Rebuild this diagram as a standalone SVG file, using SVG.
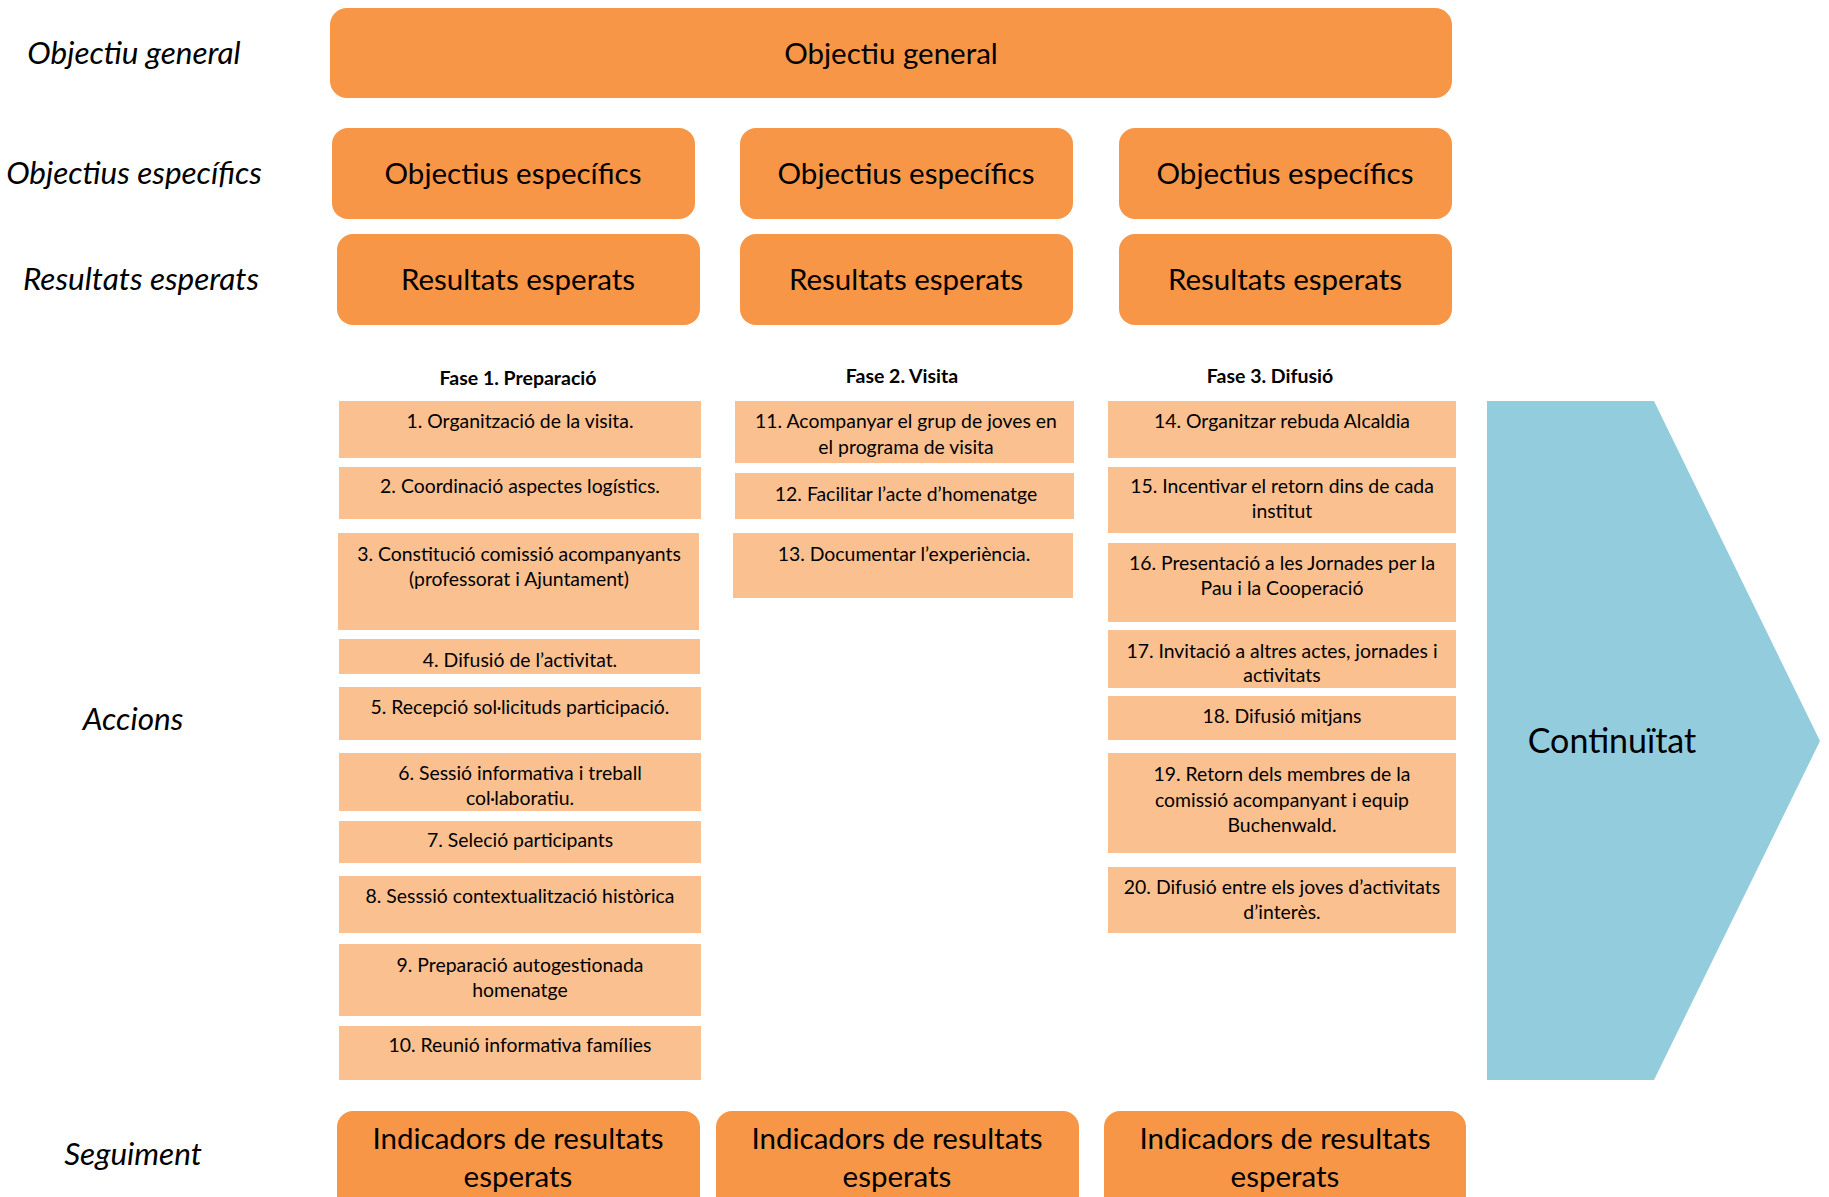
<svg xmlns="http://www.w3.org/2000/svg" width="1829" height="1197" viewBox="0 0 1829 1197">
<style>
.big{fill:#F79646}
.act{fill:#FAC090}
text{font-family:Lato,"Open Sans","Liberation Sans",sans-serif;fill:#000;text-anchor:middle}
.lbl{font-size:31.5px;font-style:italic}
.h{font-size:29.5px}
.a{font-size:19.4px}
.ph{font-size:19.5px;font-weight:bold}
.ct{font-size:34px}
</style>
<rect width="1829" height="1197" fill="#fff"/>
<g id="labels">
<text class="lbl" x="134" y="64">Objectiu general</text>
<text class="lbl" x="134" y="184">Objectius específics</text>
<text class="lbl" x="141" y="290">Resultats esperats</text>
<text class="lbl" x="133" y="730">Accions</text>
<text class="lbl" x="133" y="1165">Seguiment</text>
</g>
<g id="general"><rect class="big" x="330" y="8" width="1122" height="90" rx="17"/><text class="h" x="891" y="64">Objectiu general</text></g>
<g id="obj1"><rect class="big" x="332" y="128" width="363" height="91" rx="16"/><text class="h" x="513" y="184">Objectius específics</text></g>
<g id="obj2"><rect class="big" x="740" y="128" width="333" height="91" rx="16"/><text class="h" x="906" y="184">Objectius específics</text></g>
<g id="obj3"><rect class="big" x="1119" y="128" width="333" height="91" rx="16"/><text class="h" x="1285" y="184">Objectius específics</text></g>
<g id="res1"><rect class="big" x="337" y="234" width="363" height="91" rx="16"/><text class="h" x="518" y="290">Resultats esperats</text></g>
<g id="res2"><rect class="big" x="740" y="234" width="333" height="91" rx="16"/><text class="h" x="906" y="290">Resultats esperats</text></g>
<g id="res3"><rect class="big" x="1119" y="234" width="333" height="91" rx="16"/><text class="h" x="1285" y="290">Resultats esperats</text></g>
<g id="phase1"><text class="ph" x="518" y="385">Fase 1. Preparació</text></g>
<g id="phase2"><text class="ph" x="902" y="383">Fase 2. Visita</text></g>
<g id="phase3"><text class="ph" x="1270" y="383">Fase 3. Difusió</text></g>
<g id="a1"><rect class="act" x="339" y="401" width="362" height="57"/><text class="a" x="520" y="428">1. Organització de la visita.</text></g>
<g id="a2"><rect class="act" x="339" y="467" width="362" height="52"/><text class="a" x="520" y="493">2. Coordinació aspectes logístics.</text></g>
<g id="a3"><rect class="act" x="338" y="533" width="361" height="97"/><text class="a" x="519" y="561">3. Constitució comissió acompanyants</text><text class="a" x="519" y="586">(professorat i Ajuntament)</text></g>
<g id="a4"><rect class="act" x="339" y="639" width="361" height="35"/><text class="a" x="520" y="667">4. Difusió de l’activitat.</text></g>
<g id="a5"><rect class="act" x="339" y="687" width="362" height="53"/><text class="a" x="520" y="714">5. Recepció sol·licituds participació.</text></g>
<g id="a6"><rect class="act" x="339" y="753" width="362" height="58"/><text class="a" x="520" y="780">6. Sessió informativa i treball</text><text class="a" x="520" y="805">col·laboratiu.</text></g>
<g id="a7"><rect class="act" x="339" y="821" width="362" height="42"/><text class="a" x="520" y="847">7. Seleció participants</text></g>
<g id="a8"><rect class="act" x="339" y="876" width="362" height="57"/><text class="a" x="520" y="903">8. Sesssió contextualització històrica</text></g>
<g id="a9"><rect class="act" x="339" y="944" width="362" height="72"/><text class="a" x="520" y="972">9. Preparació autogestionada</text><text class="a" x="520" y="997">homenatge</text></g>
<g id="a10"><rect class="act" x="339" y="1026" width="362" height="54"/><text class="a" x="520" y="1052">10. Reunió informativa famílies</text></g>
<g id="a11"><rect class="act" x="735" y="401" width="339" height="62"/><text class="a" x="906" y="428">11. Acompanyar el grup de joves en</text><text class="a" x="906" y="454">el programa de visita</text></g>
<g id="a12"><rect class="act" x="735" y="473" width="339" height="46"/><text class="a" x="906" y="501">12. Facilitar l’acte d’homenatge</text></g>
<g id="a13"><rect class="act" x="733" y="533" width="340" height="65"/><text class="a" x="904" y="561">13. Documentar l’experiència.</text></g>
<g id="a14"><rect class="act" x="1108" y="401" width="348" height="57"/><text class="a" x="1282" y="428">14. Organitzar rebuda Alcaldia</text></g>
<g id="a15"><rect class="act" x="1108" y="467" width="348" height="66"/><text class="a" x="1282" y="493">15. Incentivar el retorn dins de cada</text><text class="a" x="1282" y="518">institut</text></g>
<g id="a16"><rect class="act" x="1108" y="543" width="348" height="79"/><text class="a" x="1282" y="570">16. Presentació a les Jornades per la</text><text class="a" x="1282" y="595">Pau i la Cooperació</text></g>
<g id="a17"><rect class="act" x="1108" y="630" width="348" height="58"/><text class="a" x="1282" y="658">17. Invitació a altres actes, jornades i</text><text class="a" x="1282" y="682">activitats</text></g>
<g id="a18"><rect class="act" x="1108" y="696" width="348" height="44"/><text class="a" x="1282" y="723">18. Difusió mitjans</text></g>
<g id="a19"><rect class="act" x="1108" y="753" width="348" height="100"/><text class="a" x="1282" y="781">19. Retorn dels membres de la</text><text class="a" x="1282" y="807">comissió acompanyant i equip</text><text class="a" x="1282" y="832">Buchenwald.</text></g>
<g id="a20"><rect class="act" x="1108" y="867" width="348" height="66"/><text class="a" x="1282" y="894">20. Difusió entre els joves d’activitats</text><text class="a" x="1282" y="919">d’interès.</text></g>
<g id="continuitat"><polygon points="1487,401 1654,401 1820,741 1654,1080 1487,1080" fill="#93CDDD"/><text class="ct" x="1612" y="753">Continuïtat</text></g>
<g id="ind1"><rect class="big" x="337" y="1111" width="363" height="110" rx="16"/><text class="h" x="518" y="1149">Indicadors de resultats</text><text class="h" x="518" y="1187">esperats</text></g>
<g id="ind2"><rect class="big" x="716" y="1111" width="363" height="110" rx="16"/><text class="h" x="897" y="1149">Indicadors de resultats</text><text class="h" x="897" y="1187">esperats</text></g>
<g id="ind3"><rect class="big" x="1104" y="1111" width="362" height="110" rx="16"/><text class="h" x="1285" y="1149">Indicadors de resultats</text><text class="h" x="1285" y="1187">esperats</text></g>
<g id="connectors"></g>
</svg>
